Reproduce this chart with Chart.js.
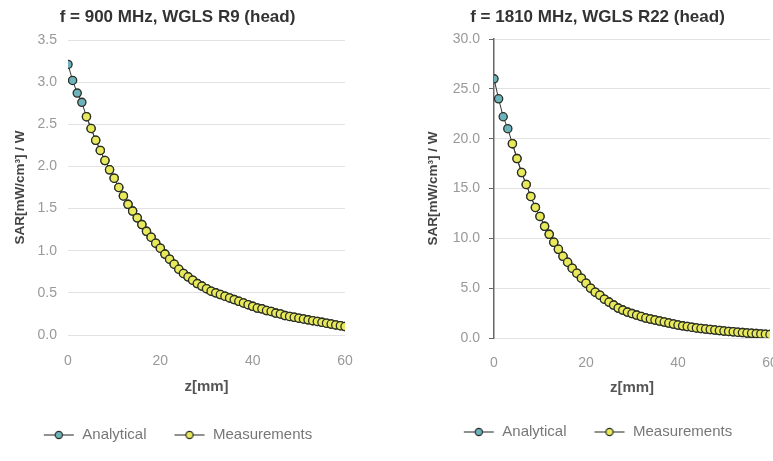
<!DOCTYPE html>
<html>
<head>
<meta charset="utf-8">
<script src="https://cdn.jsdelivr.net/npm/chart.js@4.4.1/dist/chart.umd.min.js"></script>
<style>
  html, body { margin: 0; padding: 0; background: #fff; }
  body { width: 773px; height: 461px; overflow: hidden; position: relative; }
  canvas { position: absolute; top: 0; }
  #c900 { left: 0; }
  #c1810 { left: 385px; }
</style>
</head>
<body>
<canvas id="c900" width="385" height="461"></canvas>
<canvas id="c1810" width="400" height="461"></canvas>
<script>
// depth z in mm (one point per mm)
var zMm = [0,1,2,3,4,5,6,7,8,9,10,11,12,13,14,15,16,17,18,19,20,
  21,22,23,24,25,26,27,28,29,30,31,32,33,34,35,36,37,38,39,40,
  41,42,43,44,45,46,47,48,49,50,51,52,53,54,55,56,57,58,59,60];

// 900 MHz, R9
var analytical900 = [3.21,3.02,2.87,2.76,2.59,2.45,2.31,2.19,2.07,1.96,1.86,
  1.75,1.65,1.55,1.47,1.39,1.31,1.23,1.16,1.09,1.03,
  0.96,0.90,0.84,0.78,0.73,0.69,0.65,0.61,0.58,0.55,
  0.52,0.50,0.48,0.46,0.44,0.42,0.40,0.38,0.36,0.34,
  0.32,0.31,0.29,0.28,0.26,0.25,0.23,0.22,0.21,0.20,
  0.19,0.18,0.17,0.16,0.15,0.14,0.13,0.12,0.11,0.10];
var measured900 = [null,null,null,null,2.59,2.45,2.31,2.19,2.07,1.96,1.86,
  1.75,1.65,1.55,1.47,1.39,1.31,1.23,1.16,1.09,1.03,
  0.96,0.90,0.84,0.78,0.73,0.69,0.65,0.61,0.58,0.55,
  0.52,0.50,0.48,0.46,0.44,0.42,0.40,0.38,0.36,0.34,
  0.32,0.31,0.29,0.28,0.26,0.25,0.23,0.22,0.21,0.20,
  0.19,0.18,0.17,0.16,0.15,0.14,0.13,0.12,0.11,0.10];

// 1810 MHz, R22
var analytical1810 = [26.0,24.0,22.2,21.0,19.5,18.0,16.6,15.4,14.2,13.1,12.2,
  11.2,10.4,9.6,8.9,8.2,7.6,7.0,6.5,6.0,5.5,
  5.0,4.6,4.3,3.9,3.6,3.3,3.0,2.8,2.6,2.45,
  2.3,2.15,2.0,1.9,1.8,1.7,1.6,1.5,1.4,1.3,
  1.22,1.15,1.08,1.01,0.95,0.9,0.85,0.8,0.75,0.7,
  0.66,0.62,0.58,0.54,0.5,0.47,0.44,0.41,0.38,0.35];
var measured1810 = [null,null,null,null,19.5,18.0,16.6,15.4,14.2,13.1,12.2,
  11.2,10.4,9.6,8.9,8.2,7.6,7.0,6.5,6.0,5.5,
  5.0,4.6,4.3,3.9,3.6,3.3,3.0,2.8,2.6,2.45,
  2.3,2.15,2.0,1.9,1.8,1.7,1.6,1.5,1.4,1.3,
  1.22,1.15,1.08,1.01,0.95,0.9,0.85,0.8,0.75,0.7,
  0.66,0.62,0.58,0.54,0.5,0.47,0.44,0.41,0.38,0.35];

var xTicks = [0, 20, 40, 60];
var seriesNames = ['Analytical', 'Measurements'];

var FONT = "'Liberation Sans', Arial, sans-serif";
var TEAL = '#6cb3bd', YELLOW = '#e9e95c', EDGE = '#2a2f25';

function toPoints(vals) {
  return zMm.map(function(z, i) { return {x: z, y: vals[i]}; });
}

// little "line + circle" picture for the legend
function legendIcon(fill) {
  var c = document.createElement('canvas');
  c.width = 32; c.height = 12;
  var g = c.getContext('2d');
  g.strokeStyle = '#555'; g.lineWidth = 1.3;
  g.beginPath(); g.moveTo(1, 6); g.lineTo(31, 6); g.stroke();
  g.beginPath(); g.arc(16, 6, 3.6, 0, Math.PI * 2);
  g.fillStyle = fill; g.fill();
  g.strokeStyle = EDGE; g.lineWidth = 1.2; g.stroke();
  return c;
}
var icons = [legendIcon(YELLOW), legendIcon(TEAL)];

function makeChart(id, o) {
  var ctx = document.getElementById(id).getContext('2d');
  return new Chart(ctx, {
    type: 'line',
    data: {
      datasets: [
        // measurements first so they are drawn on top
        {label: seriesNames[1], data: toPoints(o.meas), backgroundColor: YELLOW},
        {label: seriesNames[0], data: toPoints(o.anal), backgroundColor: TEAL}
      ]
    },
    options: {
      responsive: false,
      animation: false,
      devicePixelRatio: 1,
      layout: {padding: {left: o.padL, right: o.padR, top: 0, bottom: o.padB}},
      elements: {
        line: {borderColor: '#333', borderWidth: 1, tension: 0},
        point: {radius: 4.1, borderWidth: 1.3, borderColor: EDGE, hoverRadius: 4.1}
      },
      plugins: {
        tooltip: {enabled: false},
        title: {
          display: true, text: o.title, color: '#333',
          font: {family: FONT, size: 17, weight: 'bold'},
          padding: {top: 7, bottom: o.titlePadB}
        },
        legend: {
          position: 'bottom', reverse: true,
          labels: {
            color: '#777', font: {family: FONT, size: 15},
            usePointStyle: true, pointStyleWidth: 32, padding: 27,
            generateLabels: function(chart) {
              var items = Chart.defaults.plugins.legend.labels.generateLabels(chart);
              items.forEach(function(it) { it.pointStyle = icons[it.datasetIndex]; });
              return items;
            }
          }
        }
      },
      scales: {
        x: {
          type: 'linear', min: 0, max: 60,
          afterBuildTicks: function(s) { s.ticks = xTicks.map(function(v) { return {value: v}; }); },
          afterFit: function(s) { s.height = o.xH; },
          // invisible tick marks push the labels down without adding side padding
          grid: {display: true, drawOnChartArea: false, drawTicks: true,
            tickLength: o.xTickGap, color: 'rgba(0,0,0,0)', tickColor: 'rgba(0,0,0,0)'},
          border: {display: false},
          ticks: {color: '#999', font: {family: FONT, size: 14}, padding: 0, maxRotation: 0},
          title: {display: true, text: 'z[mm]', color: '#555',
            font: {family: FONT, size: 15, weight: 'bold'}, padding: {top: 0, bottom: o.xTitlePadB}}
        },
        y: {
          min: 0, max: o.yMax,
          afterFit: function(s) { s.width = o.yW; },
          grid: o.yGrid,
          border: o.yBorder,
          ticks: {stepSize: o.yStep, color: '#999', font: {family: FONT, size: 14},
            padding: o.yTickPad, callback: function(v) { return v.toFixed(1); }},
          title: {display: true, text: 'SAR[mW/cm³] / W', color: '#444',
            font: {family: FONT, size: 13.5, weight: 'bold'}, padding: {top: o.yTitlePadT, bottom: 0}}
        }
      }
    }
  });
}

makeChart('c900', {
  title: 'f = 900 MHz, WGLS R9 (head)',
  anal: analytical900, meas: measured900,
  yMax: 3.5, yStep: 0.5,
  padL: 10, padR: 40, padB: 8.5,
  titlePadB: 12.6, yW: 58, xH: 65.5, xTickGap: 18, xTitlePadB: 4.5,
  yTickPad: 11, yTitlePadT: 2,
  yGrid: {color: '#e2e2e2', drawTicks: false},
  yBorder: {display: false}
});

makeChart('c1810', {
  title: 'f = 1810 MHz, WGLS R22 (head)',
  anal: analytical1810, meas: measured1810,
  yMax: 30, yStep: 5,
  padL: 40, padR: 15, padB: 11.5,
  titlePadB: 11.6, yW: 69, xH: 59.5, xTickGap: 17, xTitlePadB: 0.5,
  yTickPad: 9, yTitlePadT: 0,
  yGrid: {color: '#e2e2e2', drawTicks: true, tickLength: 5, tickColor: '#666'},
  yBorder: {display: true, color: '#666', width: 1.5}
});
</script>
</body>
</html>
